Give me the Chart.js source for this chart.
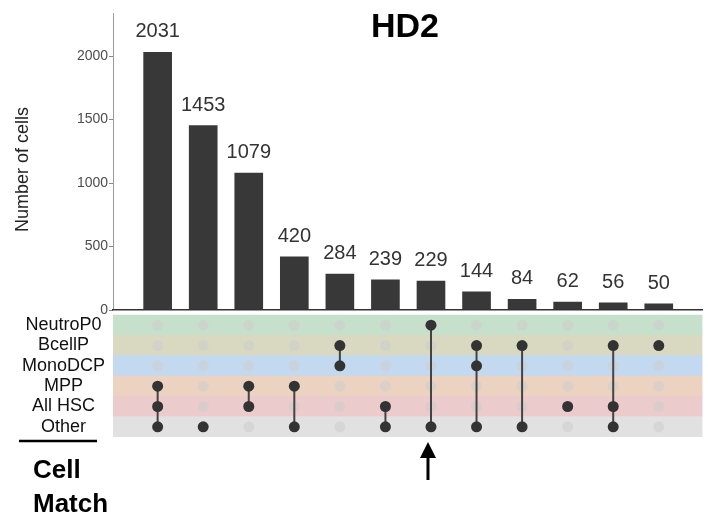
<!DOCTYPE html>
<html>
<head>
<meta charset="utf-8">
<script src="https://cdn.jsdelivr.net/npm/chart.js@4"></script>
<style>
  body { margin: 0; background: #fff; }
  #wrap { position: relative; width: 708px; height: 523px; }
</style>
</head>
<body>
<div id="wrap"><canvas id="upset" width="708" height="523"></canvas></div>
<script>
// intersection sizes, left to right
const counts = [2031, 1453, 1079, 420, 284, 239, 229, 144, 84, 62, 56, 50];
// rows of the matrix, top to bottom
const setNames = ["NeutroP0", "BcellP", "MonoDCP", "MPP", "All HSC", "Other"];
const bandColors = ["#c6e0cb", "#d8d9c0", "#c3d9ef", "#ecd2c0", "#ebcbcb", "#e1e1e1"];
// which rows are filled in for each column
const members = [[3, 4, 5], [5], [3, 4], [3, 5], [1, 2], [4, 5], [0, 5], [1, 2, 5], [1, 5], [4], [1, 4, 5], [1]];
const yTicks = [0, 500, 1000, 1500, 2000];
const arrowCol = 6;

// both y axes run the full height; the bars use the top part, the matrix the bottom
const X_MIN = -0.98, X_MAX = 11.96;
const Y_MIN = -1000, Y_MAX = 2340;
const ROW_MIN = -15.356, ROW_MAX = 5.5;
const FONT = "'Liberation Sans', Arial, sans-serif";

const barData = counts.map((c, i) => ({ x: i, y: c }));
const bandData = setNames.map((s, r) => ({ y: r, x: [X_MIN, X_MAX] }));

const onDots = [], offDots = [], links = [];
members.forEach((rows, col) => {
    setNames.forEach((s, r) => {
        (rows.includes(r) ? onDots : offDots).push({ x: col, y: r });
    });
    if (rows.length > 1) {
        links.push({ x: col, y: Math.min(...rows) });
        links.push({ x: col, y: Math.max(...rows) });
        links.push({ x: col, y: null });
    }
});

const noPad = (s, w) => {
    s.width = w;
    s.paddingTop = 0;
    s.paddingBottom = 0;
};

// bar values, title, y axis line and title, caption, arrow
const extras = {
    id: "extras",
    beforeDatasetsDraw(chart) {
        const ctx = chart.ctx;
        const y = chart.scales.y;
        const zero = y.getPixelForValue(0);
        ctx.save();
        ctx.strokeStyle = "#999";
        ctx.lineWidth = 1;
        ctx.beginPath();
        ctx.moveTo(chart.chartArea.left + 0.5, y.top);
        ctx.lineTo(chart.chartArea.left + 0.5, zero);
        ctx.stroke();

        ctx.translate(23, (y.top + zero) / 2 + 8);
        ctx.rotate(-Math.PI / 2);
        ctx.fillStyle = "#222";
        ctx.font = "18px " + FONT;
        ctx.textAlign = "center";
        ctx.textBaseline = "middle";
        ctx.fillText("Number of cells", 0, 0);
        ctx.restore();
    },
    afterDatasetsDraw(chart) {
        const ctx = chart.ctx;
        const meta = chart.getDatasetMeta(0);
        ctx.save();
        ctx.fillStyle = "#333";
        ctx.font = "20px " + FONT;
        ctx.textAlign = "center";
        ctx.textBaseline = "alphabetic";
        meta.data.forEach((bar, i) => {
            ctx.fillText(String(counts[i]), bar.x, bar.y - 15);
        });
        ctx.restore();
    },
    afterDraw(chart) {
        const ctx = chart.ctx;
        ctx.save();
        ctx.fillStyle = "#000";
        ctx.textBaseline = "alphabetic";
        ctx.font = "bold 34px " + FONT;
        ctx.textAlign = "center";
        ctx.fillText("HD2", 405, 37);

        ctx.textAlign = "left";
        ctx.font = "bold 26px " + FONT;
        ctx.fillText("Cell", 33, 478);
        ctx.fillText("Match", 33, 512);

        ctx.strokeStyle = "#000";
        ctx.lineWidth = 2.5;
        ctx.beginPath();
        ctx.moveTo(19, 441);
        ctx.lineTo(97, 441);
        ctx.stroke();

        // arrow under the highlighted column
        const ax = chart.scales.x.getPixelForValue(arrowCol) - 3;
        ctx.lineWidth = 3;
        ctx.beginPath();
        ctx.moveTo(ax, 456);
        ctx.lineTo(ax, 480);
        ctx.stroke();
        ctx.beginPath();
        ctx.moveTo(ax, 442);
        ctx.lineTo(ax - 8, 458);
        ctx.lineTo(ax + 8, 458);
        ctx.closePath();
        ctx.fill();
        ctx.restore();
    }
};

new Chart(document.getElementById("upset"), {
    data: {
        datasets: [
            {
                type: "bar",
                data: barData,
                xAxisID: "x",
                yAxisID: "y",
                backgroundColor: "#383838",
                barThickness: 28,
                order: 0
            },
            {
                type: "scatter",
                data: onDots,
                xAxisID: "x",
                yAxisID: "y2",
                pointRadius: 5.5,
                pointBackgroundColor: "#333",
                pointBorderWidth: 0,
                order: 1
            },
            {
                type: "line",
                data: links,
                xAxisID: "x",
                yAxisID: "y2",
                borderColor: "#444",
                borderWidth: 2,
                pointRadius: 0,
                spanGaps: false,
                order: 2
            },
            {
                type: "scatter",
                data: offDots,
                xAxisID: "x",
                yAxisID: "y2",
                pointRadius: 5.5,
                pointBackgroundColor: "rgba(205,205,205,0.55)",
                pointBorderWidth: 0,
                order: 3
            },
            {
                type: "bar",
                indexAxis: "y",
                data: bandData,
                xAxisID: "x",
                yAxisID: "y2",
                backgroundColor: bandColors,
                grouped: false,
                barPercentage: 1,
                categoryPercentage: 1,
                order: 4
            }
        ]
    },
    options: {
        responsive: false,
        animation: false,
        devicePixelRatio: 1,
        layout: { padding: { top: 13, right: 0, bottom: 86, left: 0 } },
        plugins: {
            legend: { display: false },
            tooltip: { enabled: false }
        },
        scales: {
            x: {
                type: "linear",
                min: X_MIN,
                max: X_MAX,
                offset: false,
                position: { y: 0 },
                ticks: { display: false },
                grid: { display: false, drawTicks: false, offset: false },
                border: { display: true, color: "#333", width: 1.5, z: 1 }
            },
            y: {
                type: "linear",
                position: "left",
                weight: 0,
                min: Y_MIN,
                max: Y_MAX,
                offset: false,
                afterBuildTicks: (s) => { s.ticks = yTicks.map(v => ({ value: v })); },
                afterFit: (s) => noPad(s, 0),
                ticks: {
                    callback: (v) => String(v),
                    font: { size: 14, family: FONT },
                    color: "#4d4d4d",
                    mirror: true,
                    crossAlign: "far",
                    padding: -36.1
                },
                grid: { drawOnChartArea: false, drawTicks: true, tickLength: 4, color: "#888" },
                border: { display: false }
            },
            y2: {
                type: "linear",
                position: "left",
                weight: 1,
                min: ROW_MIN,
                max: ROW_MAX,
                reverse: true,
                offset: false,
                afterBuildTicks: (s) => { s.ticks = setNames.map((n, i) => ({ value: i })); },
                afterFit: (s) => noPad(s, 113),
                ticks: {
                    callback: (v) => setNames[v],
                    font: { size: 18, family: FONT },
                    color: "#111",
                    crossAlign: "center",
                    padding: 8
                },
                grid: { display: false, drawTicks: false, offset: false },
                border: { display: false }
            }
        }
    },
    plugins: [extras]
});
</script>
</body>
</html>
